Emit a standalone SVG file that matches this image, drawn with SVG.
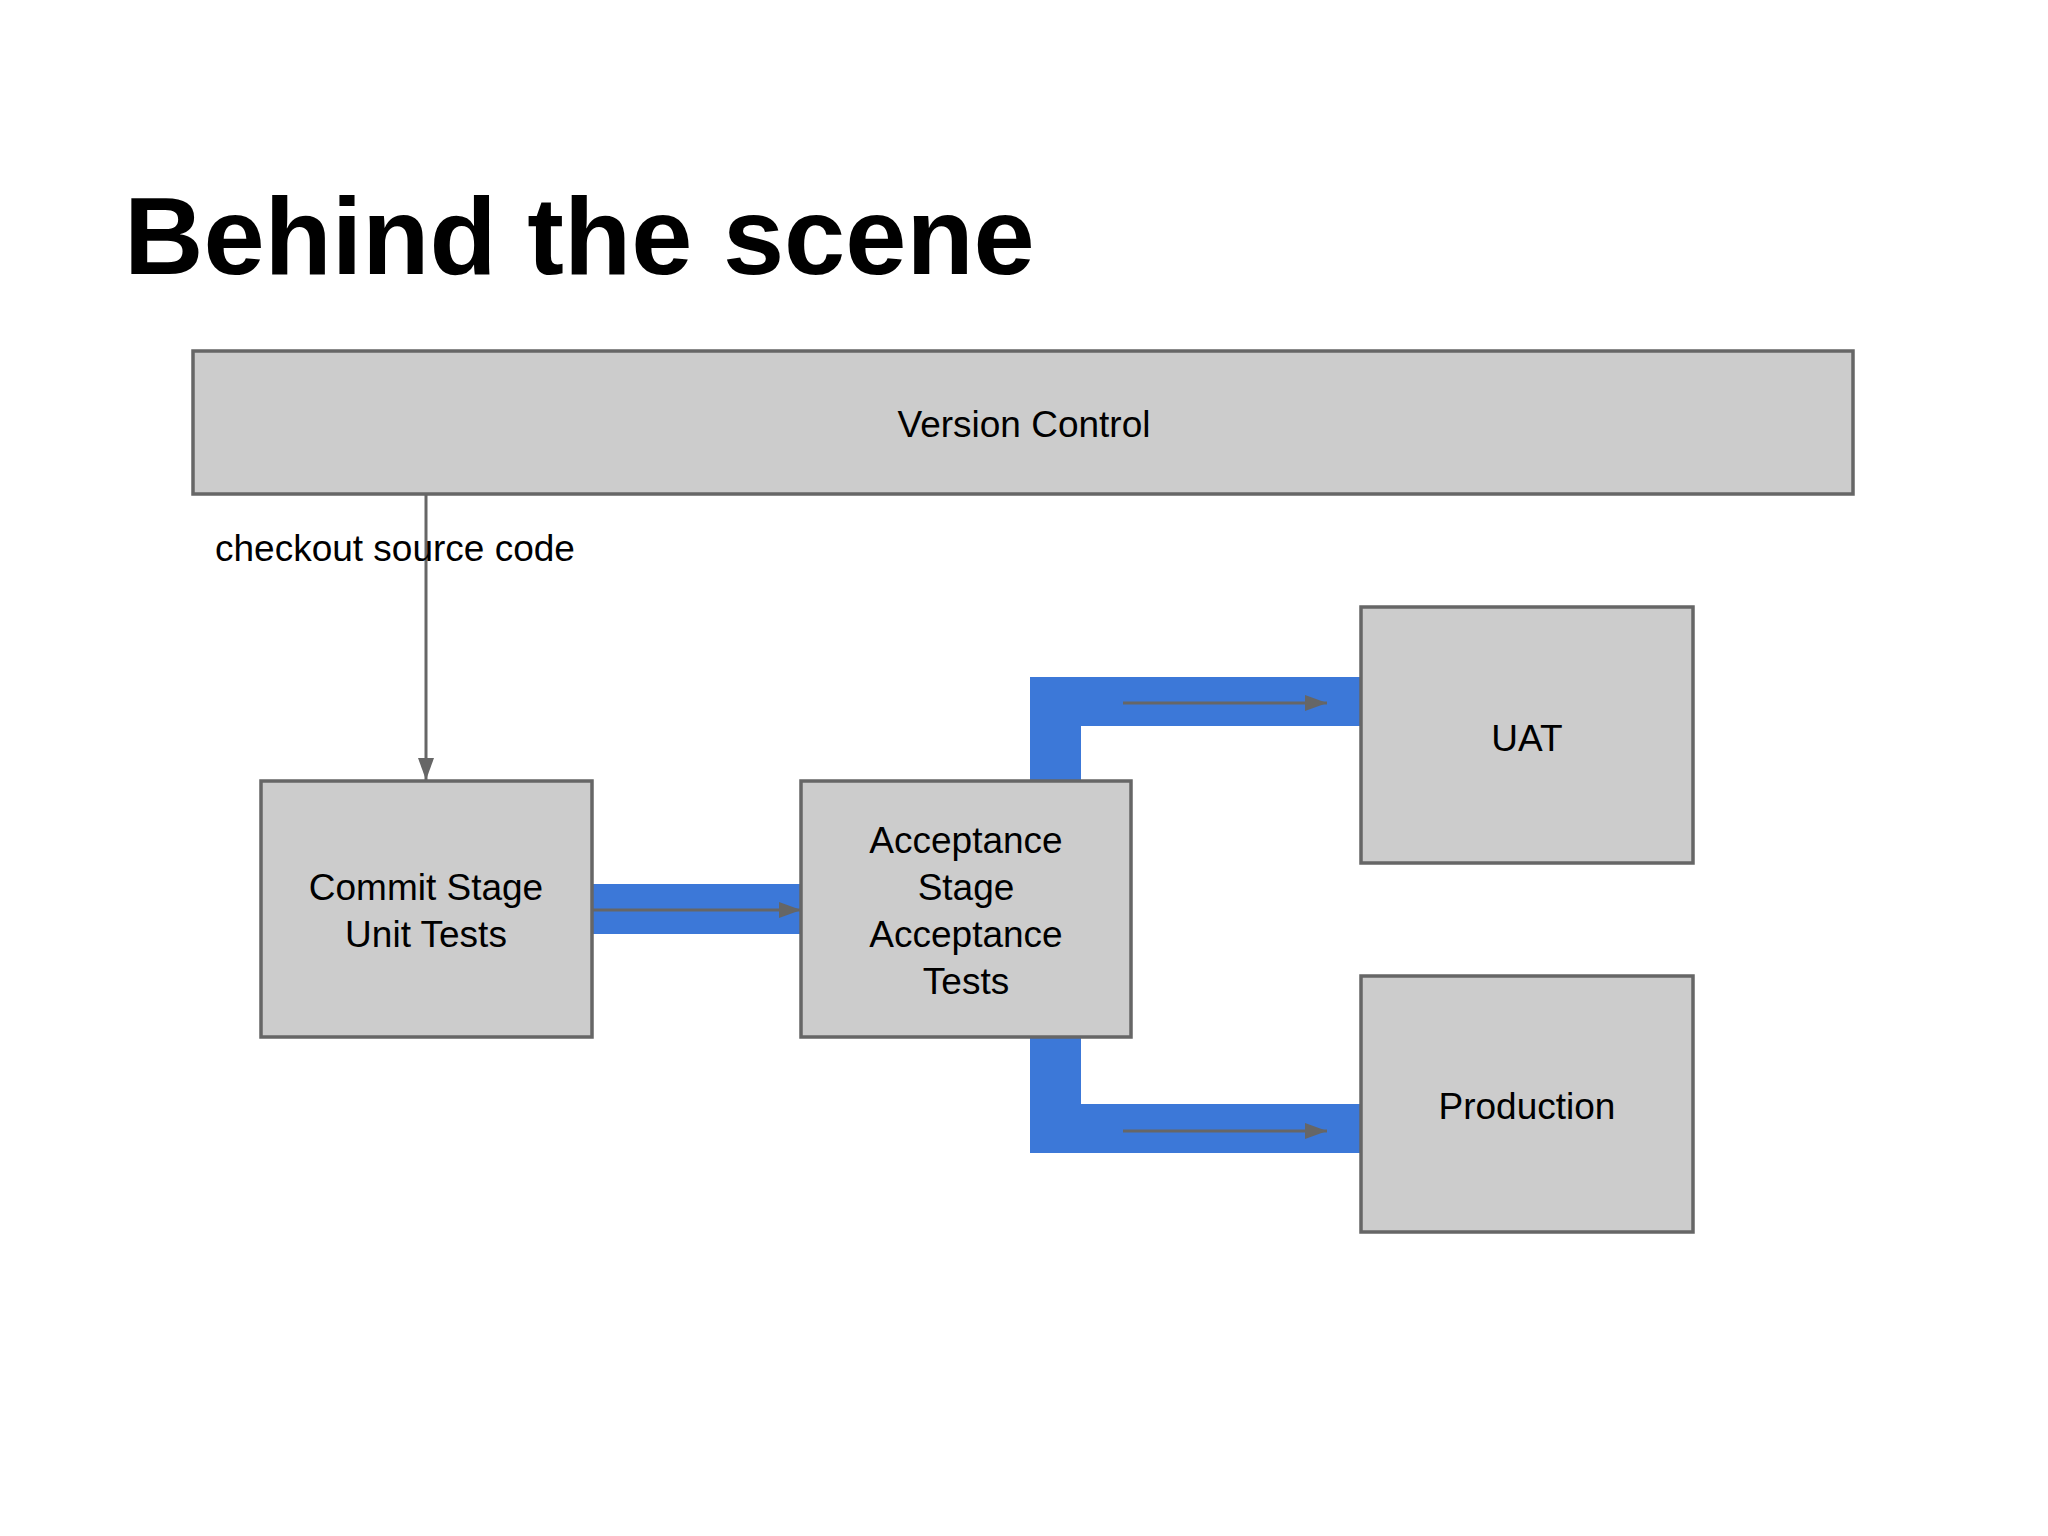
<svg xmlns="http://www.w3.org/2000/svg" width="2048" height="1536" viewBox="0 0 2048 1536">
<style>
.box{fill:#cccccc;stroke:#666666;stroke-width:3.5}
.t{font-family:"Liberation Sans",Arial,sans-serif;font-size:37px;fill:#000;text-anchor:middle}
.band{fill:#3c78d8}
.ln{stroke:#666666;stroke-width:3;fill:none}
</style>
<defs><marker id="ah" markerWidth="10" markerHeight="8" refX="9" refY="4" orient="auto" markerUnits="userSpaceOnUse" viewBox="0 0 10 8"><path d="M0,0L10,4L0,8Z" fill="#666666"/></marker>
<marker id="ahb" markerWidth="22" markerHeight="16" refX="22" refY="8" orient="auto" markerUnits="userSpaceOnUse"><path d="M0,0L22,8L0,16Z" fill="#666666"/></marker></defs>
<rect width="2048" height="1536" fill="#fff"/>
<text x="124" y="274" font-family="Liberation Sans,Arial,sans-serif" font-weight="bold" font-size="110">Behind the scene</text>
<g id="connectors">
<rect class="band" x="592" y="884" width="209" height="50"/>
<path class="band" d="M1030,781V677H1361V726H1081V781Z"/>
<path class="band" d="M1030,1037V1153H1361V1104H1081V1037Z"/>
<line class="ln" x1="592" y1="910" x2="801" y2="910" marker-end="url(#ahb)"/>
<line class="ln" x1="1123" y1="703" x2="1327" y2="703" marker-end="url(#ahb)"/>
<line class="ln" x1="1123" y1="1131" x2="1327" y2="1131" marker-end="url(#ahb)"/>
<line class="ln" x1="426" y1="494" x2="426" y2="780" marker-end="url(#ahb)"/>
<text x="215" y="561" font-family="Liberation Sans,Arial,sans-serif" font-size="37">checkout source code</text>
</g>
<g id="vc"><rect class="box" x="193" y="351" width="1660" height="143"/><text class="t" x="1024" y="437">Version Control</text></g>
<g id="commit"><rect class="box" x="261" y="781" width="331" height="256"/><text class="t" x="426" y="900">Commit Stage</text><text class="t" x="426" y="947">Unit Tests</text></g>
<g id="accept"><rect class="box" x="801" y="781" width="330" height="256"/><text class="t" x="966" y="853">Acceptance</text><text class="t" x="966" y="900">Stage</text><text class="t" x="966" y="947">Acceptance</text><text class="t" x="966" y="994">Tests</text></g>
<g id="uat"><rect class="box" x="1361" y="607" width="332" height="256"/><text class="t" x="1527" y="751">UAT</text></g>
<g id="prod"><rect class="box" x="1361" y="976" width="332" height="256"/><text class="t" x="1527" y="1119">Production</text></g>
</svg>
